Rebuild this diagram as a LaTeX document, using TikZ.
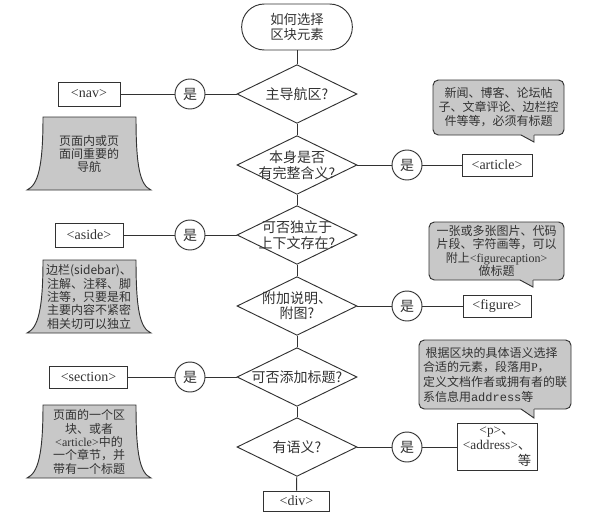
\documentclass[tikz,border=0pt]{standalone}
\usepackage{fontspec}
\setmainfont{Noto Sans CJK SC}
\newfontfamily\lat{Liberation Serif}
\newfontfamily\mono{Liberation Mono}
\usepackage{tikz}
\usetikzlibrary{shapes.geometric}
\definecolor{ink}{RGB}{50, 50, 50}
\definecolor{notegray}{RGB}{200, 200, 200}

\begin{document}
\begin{tikzpicture}[x=0.75pt, y=-0.75pt, line width=0.7pt, draw=ink, text=ink,
  startbox/.style={draw, rounded corners=17pt, minimum width=83pt, minimum height=34.5pt, align=center, font=\fontsize{10}{11.5}\selectfont},
  decision/.style={draw, diamond, minimum width=90pt, minimum height=44pt, inner sep=0pt},
  qtext/.style={align=center, inner sep=0pt, font=\fontsize{10.5}{11.5}\selectfont},
  yes/.style={draw, circle, minimum size=22.5pt, inner sep=0pt, font=\fontsize{10.5}{12}\selectfont},
  tag/.style={draw, inner sep=1pt, font=\lat\fontsize{10.5}{12}\selectfont},
  note/.style={draw, fill=notegray},
  notetext/.style={align=center, inner sep=0pt, font=\fontsize{9}{10}\selectfont},
  callout/.style={draw, fill=notegray, rounded corners=4pt, inner sep=2pt, font=\fontsize{9}{10.5}\selectfont}]
  \useasboundingbox (0,0) rectangle (591,518);
  % Start - the question
  \node[startbox] (start) at (297,27) {如何选择\\区块元素};
  % Decisions down the middle
  \foreach \n/\y/\t in {1/94/{主导航区?}, 2/165/{本身是否\\有完整含义?}, 3/235/{可否独立于\\上下文存在?},
                        4/306/{附加说明、\\附图?}, 5/377/{可否添加标题?}, 6/447/{有语义?}} {
    \node[decision] (d\n) at (297,\y) {};
    \node[qtext] (q\n) at (d\n) {\t};
  }
  % Yes branches
  \foreach \n/\x/\y in {1/190/94, 3/190/235, 5/190/377, 2/407/165, 4/407/306, 6/407/447} {
    \node[yes] (y\n) at (\x,\y) {是};
  }
  % Elements
  \node[tag, minimum width=46.5pt, minimum height=18pt] (nav) at (89,94) {<nav>};
  \node[tag, minimum width=51pt, minimum height=18pt] (aside) at (89,235) {<aside>};
  \node[tag, minimum width=58pt, minimum height=16.5pt] (section) at (88.5,377) {<section>};
  \node[tag, minimum width=52.5pt, minimum height=16.5pt] (article) at (497,165) {<article>};
  \node[tag, minimum width=51pt, minimum height=16.5pt] (figure) at (497,306) {<figure>};
  \node[tag, minimum width=50pt, minimum height=15pt] (div) at (296.5,501) {<div>};
  \node[draw, minimum width=60pt, minimum height=31.5pt, inner sep=1pt, font=\fontsize{10}{11}\selectfont] (sem) at (497,447)
    {\begin{tabular}{@{}c@{}}{\lat <p>}、\\{\lat <address>}、\\\multicolumn{1}{@{}r@{}}{等\hspace{4pt}}\end{tabular}};
  % Flow
  \draw (start) -- (d1);
  \foreach \a/\b in {d1/d2, d2/d3, d3/d4, d4/d5, d5/d6, d6/div} {
    \draw (\a) -- (\b);
  }
  \foreach \n/\e in {1/nav, 2/article, 3/aside, 4/figure, 5/section, 6/sem} {
    \draw (d\n) -- (y\n) -- (\e);
  }
  % Notes on the left
  \foreach \y in {117, 260, 405} {
    \draw[note] (43,\y) -- (136,\y) .. controls (136,\y+50) and (140,\y+68) .. (151,\y+73)
      -- (27,\y+73) .. controls (38,\y+68) and (43,\y+50) .. (43,\y) -- cycle;
  }
  \node[notetext] (n1) at (89,154) {页面内或页\\面间重要的\\导航};
  \node[notetext] (n3) at (89,297) {边栏(sidebar)、\\注解、注释、脚\\注等，只要是和\\主要内容不紧密\\相关切可以独立};
  \node[notetext] (n5) at (89,442) {页面的一个区\\块、或者\\{\lat <article>}中的\\一个章节，并\\带有一个标题};
  % Callouts on the right
  \node[callout, minimum width=98.25pt, minimum height=41.25pt, align=center] (c2) at (498.5,107.5)
    {新闻、博客、论坛帖\\子、文章评论、边栏控\\件等等，必须有标题};
  \node[callout, minimum width=101.25pt, minimum height=43.5pt, align=center, font=\fontsize{9}{10}\selectfont] (c4) at (496.5,251)
    {一张或多张图片、代码\\片段、字符画等，可以\\附上{\lat <figurecaption>}\\做标题};
  \node[callout, minimum width=114pt, minimum height=51.75pt, align=left, font=\fontsize{9}{11}\selectfont] (c6) at (495,374.5)
    {\ 根据区块的具体语义选择\\合适的元素，段落用{\lat P}，\\定义文档作者或拥有者的联\\系信息用{\mono address}等};
  % Tails
  \foreach \x/\y/\t in {521/135/142, 520/280/287, 521/409/418} {
    \fill[notegray] (\x,\y-2) -- (\x,\y) -- (\x+13,\t) -- (\x+13,\y-2) -- cycle;
    \draw (\x,\y) -- (\x+13,\t) -- (\x+13,\y);
  }
\end{tikzpicture}
\end{document}
